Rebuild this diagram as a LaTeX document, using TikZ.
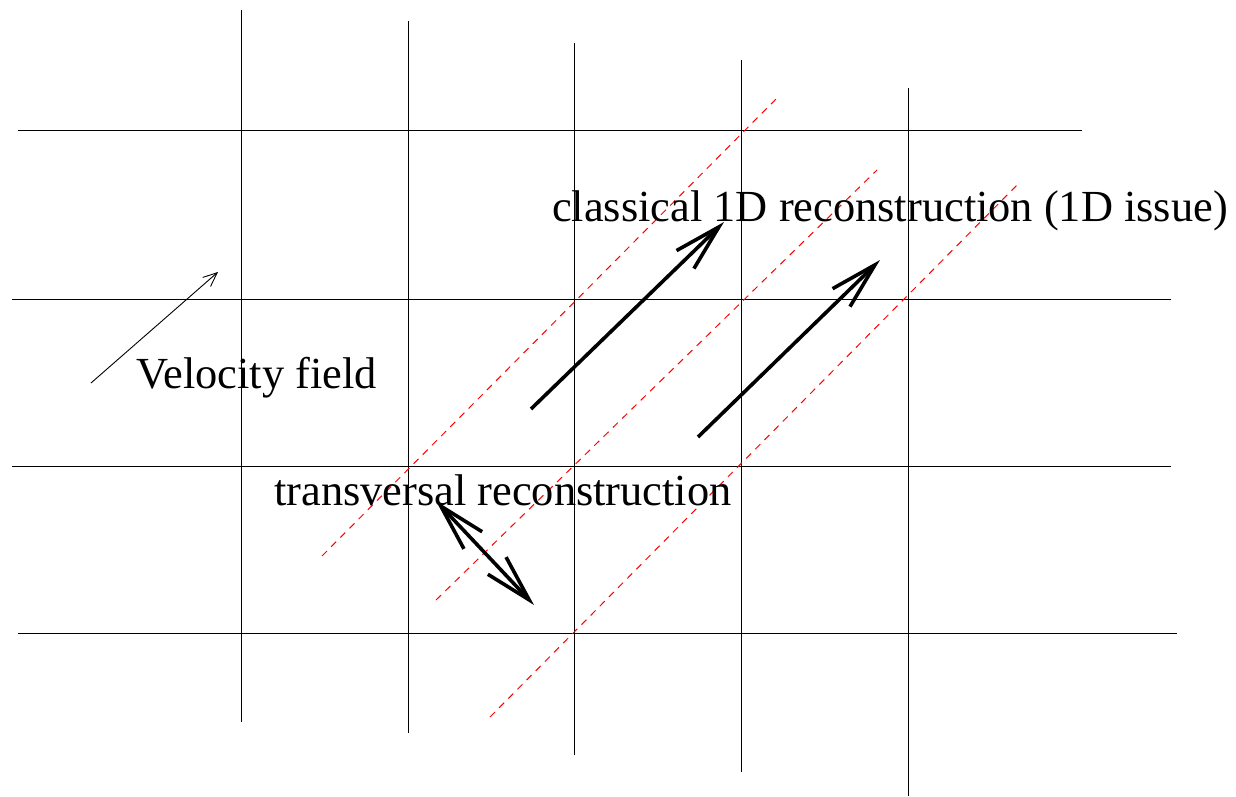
\documentclass[tikz,border=0pt]{standalone}
\usepackage{fontspec}
\setmainfont{Liberation Serif}
\usetikzlibrary{arrows.meta}
\tikzset{
  grid/.style={line width=1pt, black},
  guide/.style={line width=1pt, red, dash pattern=on 7pt off 6pt},
  bigarrow/.style={line width=3.6pt, -{Straight Barb[length=47pt,width=25pt]}},
  bigdouble/.style={line width=3.6pt, {Straight Barb[length=47pt,width=25pt]}-{Straight Barb[length=47pt,width=25pt]}},
  thinarrow/.style={line width=0.9pt, -{Straight Barb[length=14pt,width=12pt]}},
  lbl/.style={anchor=base west, inner sep=0pt, font=\fontsize{44.4}{50}\selectfont}
}
\begin{document}
\begin{tikzpicture}[x=1pt,y=-1pt]
\useasboundingbox (0,0) rectangle (1236,797);
% grid
\draw[grid] (18,131) -- (1082,131);
\draw[grid] (12,299) -- (1171,299);
\draw[grid] (12,466) -- (1171,466);
\draw[grid] (18,633) -- (1177,633);
\draw[grid] (241,10) -- (241,722);
\draw[grid] (408,21) -- (408,733);
\draw[grid] (574,43) -- (574,755);
\draw[grid] (741,60) -- (741,772);
\draw[grid] (908,88) -- (908,796);
% red dashed guides
\draw[guide] (322,556) -- (780,95);
\draw[guide] (436,600) -- (877,170);
\draw[guide] (490,717) -- (1019,183);
% arrows
\coordinate (a1s) at (531,409);
\coordinate (a1e) at (724,222);
\coordinate (a2s) at (698,437);
\coordinate (a2e) at (880,260);
\coordinate (d1) at (436,501);
\coordinate (d2) at (534,605);
\coordinate (vs) at (91,383);
\coordinate (ve) at (218,272);
\draw[bigarrow] (a1s) -- (a1e);
\draw[bigarrow] (a2s) -- (a2e);
\draw[bigdouble] (d1) -- (d2);
\draw[thinarrow] (vs) -- (ve);
% labels
\node[lbl] (cl) at (552,221) {classical 1D reconstruction (1D issue)};
\node[lbl] (vf) at (136,388) {Velocity field};
\node[lbl] (tr) at (274,505) {transversal reconstruction};
\end{tikzpicture}
\end{document}
